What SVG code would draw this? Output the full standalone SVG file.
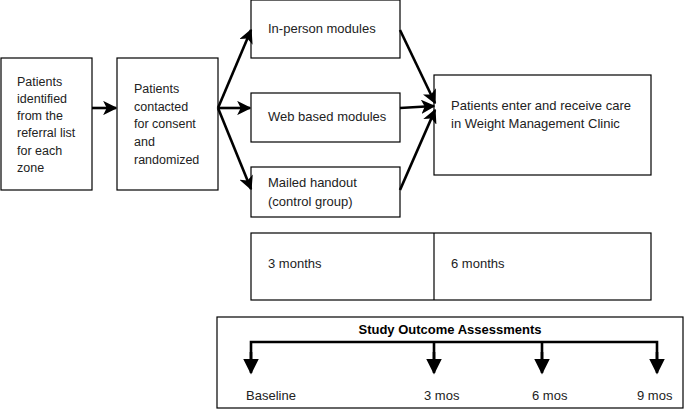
<svg xmlns="http://www.w3.org/2000/svg" width="685" height="409" viewBox="0 0 685 409">
<style>
.box{fill:#fff;stroke:#000;stroke-width:1.2}
.t{font-family:"Liberation Sans",Arial,sans-serif;font-size:13px;fill:#222}
.s{font-size:12.5px}
.b{font-weight:bold;fill:#000}
.c{stroke:#000;stroke-width:2.6;fill:none}
</style>
<defs>
<marker id="ah" viewBox="0 0 10 10" refX="9" refY="5" markerWidth="5.5" markerHeight="5.5" orient="auto" markerUnits="strokeWidth">
<path d="M0,0 L10,5 L0,10 L2.5,5 Z" fill="#000"/>
</marker>
<marker id="ad" viewBox="0 0 10 10" refX="9" refY="5" markerWidth="6" markerHeight="6" orient="auto" markerUnits="strokeWidth">
<path d="M0,0 L10,5 L0,10 Z" fill="#000"/>
</marker>
</defs>
<rect width="685" height="409" fill="#fff"/>
<g id="n1"><rect class="box" x="1" y="58" width="91" height="132"/>
<text class="t s" x="17" y="86">Patients</text><text class="t s" x="17" y="103">identified</text><text class="t s" x="17" y="120">from the</text><text class="t s" x="17" y="137">referral list</text><text class="t s" x="17" y="155">for each</text><text class="t s" x="17" y="172">zone</text></g>
<g id="n2"><rect class="box" x="117" y="58" width="101" height="132"/>
<text class="t s" x="134" y="93">Patients</text><text class="t s" x="134" y="111">contacted</text><text class="t s" x="134" y="128">for consent</text><text class="t s" x="134" y="146">and</text><text class="t s" x="134" y="164">randomized</text></g>
<g id="n3"><rect class="box" x="251" y="0" width="149" height="58"/><text class="t" x="268" y="33">In-person modules</text></g>
<g id="n4"><rect class="box" x="251" y="93" width="149" height="49"/><text class="t" x="268" y="121">Web based modules</text></g>
<g id="n5"><rect class="box" x="251" y="167" width="149" height="50"/><text class="t" x="268" y="187">Mailed handout</text><text class="t" x="268" y="206">(control group)</text></g>
<g id="n6"><rect class="box" x="434" y="75" width="217" height="100"/><text class="t" x="451" y="110">Patients enter and receive care</text><text class="t" x="451" y="128">in Weight Management Clinic</text></g>
<g id="n7"><rect class="box" x="251" y="233" width="400" height="67"/><line x1="434" y1="233" x2="434" y2="300" stroke="#000" stroke-width="1.2"/><text class="t" x="268" y="268">3 months</text><text class="t" x="451" y="268">6 months</text></g>
<g id="n8"><rect class="box" x="217" y="317" width="466" height="91"/>
<text class="t b" x="450" y="334" text-anchor="middle">Study Outcome Assessments</text>
<path class="c" d="M251,360 V342 H657 V360 M434,342 V360 M542,342 V360"/>
<line class="c" x1="251" y1="352" x2="251" y2="373" marker-end="url(#ad)"/>
<line class="c" x1="434" y1="352" x2="434" y2="373" marker-end="url(#ad)"/>
<line class="c" x1="542" y1="352" x2="542" y2="373" marker-end="url(#ad)"/>
<line class="c" x1="657" y1="352" x2="657" y2="373" marker-end="url(#ad)"/>
<text class="t" x="246" y="400">Baseline</text><text class="t" x="424" y="400">3 mos</text><text class="t" x="532" y="400">6 mos</text><text class="t" x="637" y="400">9 mos</text></g>
<g id="connectors">
<line class="c" x1="92" y1="108" x2="116" y2="108" marker-end="url(#ah)"/>
<line class="c" x1="218" y1="108" x2="251" y2="30" marker-end="url(#ah)"/>
<line class="c" x1="218" y1="108" x2="250" y2="108" marker-end="url(#ah)"/>
<line class="c" x1="218" y1="108" x2="251" y2="189" marker-end="url(#ah)"/>
<line class="c" x1="400" y1="30" x2="435" y2="103" marker-end="url(#ah)"/>
<line class="c" x1="400" y1="108" x2="434" y2="106" marker-end="url(#ah)"/>
<line class="c" x1="400" y1="190" x2="435" y2="110" marker-end="url(#ah)"/>
</g>
</svg>
